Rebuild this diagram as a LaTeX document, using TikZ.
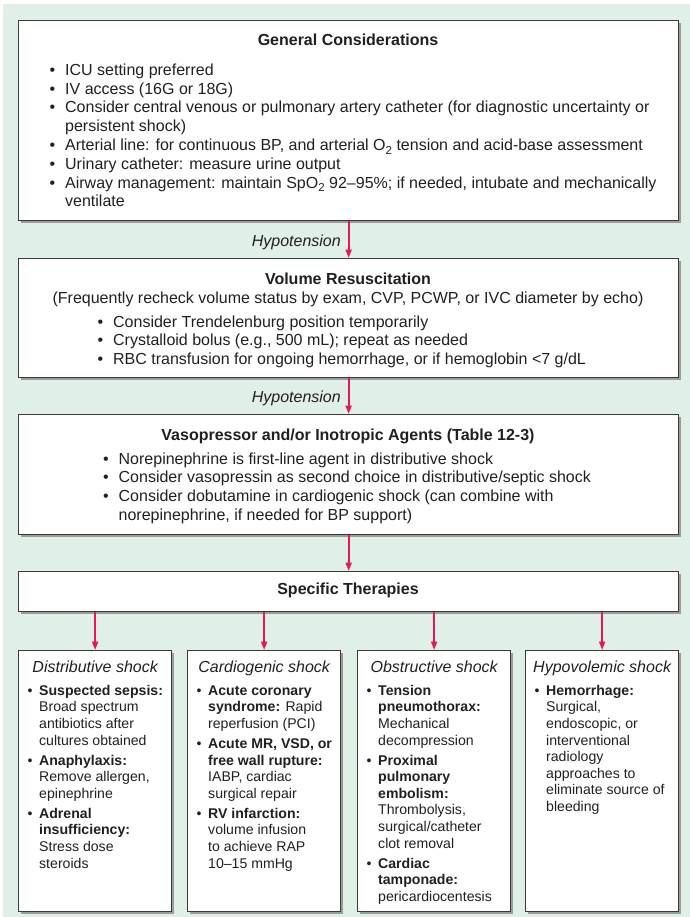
\documentclass[tikz,border=0pt]{standalone}
\usepackage{fontspec}
\setmainfont{Liberation Sans}
\usetikzlibrary{arrows.meta,shadows}
\definecolor{bgc}{HTML}{E0F0E6}
\definecolor{arr}{HTML}{E6175C}
\definecolor{edgec}{HTML}{3A3A3A}
\definecolor{shad}{HTML}{9C9C9C}
\definecolor{txt}{HTML}{231F20}
\newcommand{\bul}{\makebox[15.5bp][l]{\textbullet}}
\newcommand{\ind}{\hspace*{15.5bp}}
\newcommand{\sbul}{\makebox[11.5bp][l]{\textbullet}}
\newcommand{\sind}{\hspace*{11.5bp}}
\newcommand{\subtwo}{\raisebox{-3.5bp}{\fontsize{11.5bp}{11.5bp}\selectfont 2}}
\begin{document}
\begin{tikzpicture}[x=1bp,y=-1bp,
  box/.style={draw=edgec, line width=1.3bp, fill=white, inner sep=0pt, anchor=north west,
    drop shadow={shadow xshift=2bp, shadow yshift=-2bp, fill=shad, opacity=1}},
  wbox/.style={box, minimum width=660bp},
  sbox/.style={box, minimum width=153bp, minimum height=261bp},
  ttl/.style={font=\bfseries\fontsize{16bp}{19bp}\selectfont, text=txt, inner sep=0pt, anchor=base},
  sub/.style={font=\fontsize{16bp}{19bp}\selectfont, text=txt, inner sep=0pt, anchor=base},
  body/.style={font=\fontsize{16bp}{18.8bp}\selectfont, text=txt, align=left, inner sep=0pt, anchor=north west},
  shd/.style={font=\itshape\fontsize{16bp}{19bp}\selectfont, text=txt, inner sep=0pt, anchor=base},
  sbody/.style={font=\fontsize{14.1bp}{16.6bp}\selectfont, text=txt, align=left, inner sep=0pt, anchor=north west},
  hyp/.style={font=\itshape\fontsize{16bp}{19bp}\selectfont, text=txt, inner sep=0pt, anchor=base east},
  arrowst/.style={draw=arr, line width=2bp, -{Triangle[length=8.5bp,width=6bp]}}
]
\useasboundingbox (0,0) rectangle (690,917);
\fill[white] (0,0) rectangle (690,917);
\fill[bgc] (3,4) rectangle (690,917);

% main boxes
\node[wbox, minimum height=200bp] (b1) at (18,20) {};
\node[wbox, minimum height=119bp] (b2) at (18,258) {};
\node[wbox, minimum height=120bp] (b3) at (18,414) {};
\node[wbox, minimum height=40bp] (b4) at (18,571) {};
% bottom boxes
\node[sbox] (d1) at (18,650) {};
\node[sbox] (d2) at (187,650) {};
\node[sbox] (d3) at (357,650) {};
\node[sbox] (d4) at (525,650) {};

% box 1
\node[ttl] (t1) at (348,45.5) {General Considerations};
\node[body] (l1) at (49.5,62) {\strut\bul ICU setting preferred\\
\bul IV access (16G or 18G)\\
\bul Consider central venous or pulmonary artery catheter (for diagnostic uncertainty or\\
\ind persistent shock)\\
\bul Arterial line: for continuous BP, and arterial O\subtwo\ tension and acid-base assessment\\
\bul Urinary catheter: measure urine output\\
\bul Airway management: maintain SpO\subtwo\ 92–95\%; if needed, intubate and mechanically\\
\ind ventilate};

% box 2
\node[ttl] (t2) at (348,284.5) {Volume Resuscitation};
\node[sub] (s2) at (348,303.5) {(Frequently recheck volume status by exam, CVP, PCWP, or IVC diameter by echo)};
\node[body] (l2) at (97.5,313.8) {\strut\bul Consider Trendelenburg position temporarily\\
\bul Crystalloid bolus (e.g., 500 mL); repeat as needed\\
\bul RBC transfusion for ongoing hemorrhage, or if hemoglobin <7 g/dL};

% box 3
\node[ttl] (t3) at (348,440.5) {Vasopressor and/or Inotropic Agents (Table 12-3)};
\node[body] (l3) at (103,450.8) {\strut\bul Norepinephrine is first-line agent in distributive shock\\
\bul Consider vasopressin as second choice in distributive/septic shock\\
\bul Consider dobutamine in cardiogenic shock (can combine with\\
\ind norepinephrine, if needed for BP support)};

% box 4
\node[ttl] (t4) at (348,594.5) {Specific Therapies};

% bottom headings
\node[shd] (h1) at (d1.north |- 0,672.5) {Distributive shock};
\node[shd] (h2) at (d2.north |- 0,672.5) {Cardiogenic shock};
\node[shd] (h3) at (d3.north |- 0,672.5) {Obstructive shock};
\node[shd] (h4) at (d4.north |- 0,672.5) {Hypovolemic shock};

\node[sbody] (x1) at (27.5,683.4) {\strut\sbul\textbf{Suspected sepsis:}\\
\sind Broad spectrum\\ \sind antibiotics after\\ \sind cultures obtained\\[3.4bp]
\sbul\textbf{Anaphylaxis:}\\ \sind Remove allergen,\\ \sind epinephrine\\[3.4bp]
\sbul\textbf{Adrenal}\\ \sind\textbf{insufficiency:}\\ \sind Stress dose\\ \sind steroids};

\node[sbody] (x2) at (196.5,683.4) {\strut\sbul\textbf{Acute coronary}\\
\sind\textbf{syndrome:} Rapid\\ \sind reperfusion (PCI)\\[3.4bp]
\sbul\textbf{Acute MR, VSD, or}\\ \sind\textbf{free wall rupture:}\\ \sind IABP, cardiac\\ \sind surgical repair\\[3.4bp]
\sbul\textbf{RV infarction:}\\ \sind volume infusion\\ \sind to achieve RAP\\ \sind 10–15 mmHg};

\node[sbody] (x3) at (366.5,683.4) {\strut\sbul\textbf{Tension}\\
\sind\textbf{pneumothorax:}\\ \sind Mechanical\\ \sind decompression\\[3.4bp]
\sbul\textbf{Proximal}\\ \sind\textbf{pulmonary}\\ \sind\textbf{embolism:}\\ \sind Thrombolysis,\\ \sind surgical/catheter\\ \sind clot removal\\[3.4bp]
\sbul\textbf{Cardiac}\\ \sind\textbf{tamponade:}\\ \sind pericardiocentesis};

\node[sbody] (x4) at (534.5,683.4) {\strut\sbul\textbf{Hemorrhage:}\\
\sind Surgical,\\ \sind endoscopic, or\\ \sind interventional\\ \sind radiology\\ \sind approaches to\\ \sind eliminate source of\\ \sind bleeding};

% connectors
\draw[arrowst] (b1.south) -- (b2.north);
\draw[arrowst] (b2.south) -- (b3.north);
\draw[arrowst] (b3.south) -- (b4.north);
\node[hyp] (p1) at (341,246.5) {Hypotension};
\node[hyp] (p2) at (341,402.5) {Hypotension};
\draw[arrowst] (b4.south -| d1.north) -- (d1.north);
\draw[arrowst] (b4.south -| d2.north) -- (d2.north);
\draw[arrowst] (b4.south -| d3.north) -- (d3.north);
\draw[arrowst] (b4.south -| d4.north) -- (d4.north);
\end{tikzpicture}
\end{document}
